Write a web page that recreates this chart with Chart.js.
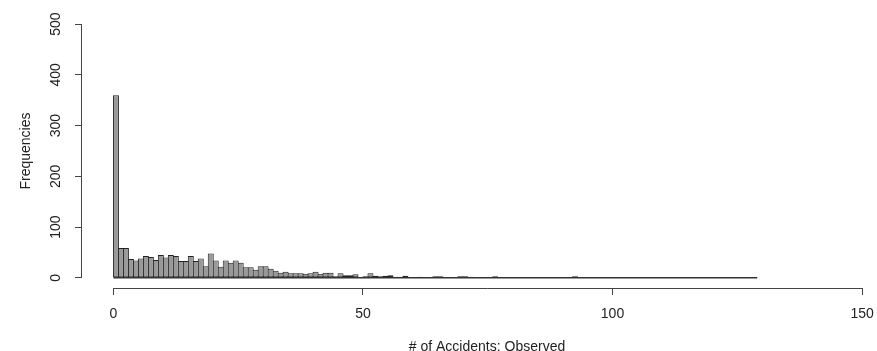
<!DOCTYPE html>
<html>
<head>
<meta charset="utf-8">
<script src="https://cdn.jsdelivr.net/npm/chart.js@4/dist/chart.umd.min.js"></script>
<style>
  html, body { margin: 0; padding: 0; background: #fff; overflow: hidden; }
  #wrap { position: relative; width: 900px; height: 351px; }
</style>
</head>
<body>
<div id="wrap"><canvas id="histChart"></canvas></div>
<script>
// histogram bins: [firstBreak + k*binWidth, firstBreak + (k+1)*binWidth)
const firstBreak = 0;
const binWidth = 1;
const counts = [
  360, 59, 59, 37, 34, 38, 43, 41, 35, 45,
  40, 45, 43, 33, 33, 43, 33, 38, 23, 48,
  34, 22, 34, 30, 34, 30, 21, 21, 16, 23,
  23, 18, 14, 10, 12, 9, 9, 9, 8, 9,
  12, 8, 10, 10, 3, 9, 5, 5, 7, 1,
  3, 9, 4, 3, 4, 5, 2, 2, 4, 1,
  1, 2, 1, 1, 3, 3, 1, 1, 1, 3,
  3, 2, 1, 1, 1, 1, 3, 1, 1, 1,
  0, 0, 0, 0, 0, 0, 0, 0, 0, 0,
  0, 0, 3, 0, 0, 1, 0, 0, 0, 0,
  0, 0, 0, 0, 0, 1, 0, 0, 0, 1,
  0, 0, 0, 0, 0, 0, 0, 0, 0, 0,
  0, 1, 1, 0, 0, 0, 0, 0, 1
];
const xTicks = [0, 50, 100, 150];
const yTicks = [0, 100, 200, 300, 400, 500];
const xTitle = "# of Accidents: Observed";
const yTitle = "Frequencies";

const bars = counts.map((c, k) => ({ x: firstBreak + (k + 0.5) * binWidth, y: c }));
const lastBreak = firstBreak + counts.length * binWidth;

const font = { family: "'Liberation Sans', Arial, sans-serif", size: 14, lineHeight: 1 };
const textColor = "#222";
const axisColor = "#444";

// R style axis lines: only from first to last tick
const axisLines = {
  id: "axisLines",
  afterDraw(chart) {
    const { ctx, chartArea, scales: { x, y } } = chart;
    ctx.save();
    ctx.strokeStyle = axisColor;
    ctx.lineWidth = 1;
    ctx.beginPath();
    const by = Math.round(chartArea.bottom) + 0.5;
    ctx.moveTo(x.getPixelForValue(xTicks[0]), by);
    ctx.lineTo(x.getPixelForValue(xTicks[xTicks.length - 1]), by);
    const lx = Math.round(chartArea.left) - 0.5;
    ctx.moveTo(lx, y.getPixelForValue(yTicks[0]));
    ctx.lineTo(lx, y.getPixelForValue(yTicks[yTicks.length - 1]));
    ctx.stroke();
    ctx.restore();
  }
};

new Chart(document.getElementById("histChart"), {
  type: "bar",
  data: {
    datasets: [
      {
        type: "line",
        data: [{ x: firstBreak, y: 0 }, { x: lastBreak, y: 0 }],
        borderColor: "#333",
        borderWidth: 1.5,
        pointRadius: 0,
        order: 0
      },
      {
        data: bars,
        backgroundColor: "#999999",
        borderColor: "#222",
        borderWidth: 1,
        borderSkipped: false,
        barPercentage: 1.2,
        categoryPercentage: 1,
        order: 1
      }
    ]
  },
  options: {
    responsive: true,
    maintainAspectRatio: false,
    animation: false,
    layout: { padding: { top: 14, right: 8, left: 0, bottom: 0 } },
    plugins: { legend: { display: false }, tooltip: { enabled: false } },
    scales: {
      x: {
        type: "linear",
        min: -6.3,
        max: 156,
        offset: false,
        afterBuildTicks: s => { s.ticks = xTicks.map(v => ({ value: v })); },
        afterFit: s => { s.height = 63; },
        ticks: { color: textColor, font, padding: 12, autoSkip: false, maxRotation: 0 },
        grid: { offset: false, drawOnChartArea: false, drawTicks: true, tickLength: 7, color: axisColor },
        border: { display: false },
        title: { display: true, text: xTitle, color: textColor, font, padding: { top: 0, bottom: -3 } }
      },
      y: {
        min: -20,
        max: 520,
        afterBuildTicks: s => { s.ticks = yTicks.map(v => ({ value: v })); },
        afterFit: s => { s.width = 82; },
        ticks: { color: textColor, font, padding: 7, autoSkip: false, minRotation: 90, maxRotation: 90, crossAlign: "center" },
        grid: { offset: false, drawOnChartArea: false, drawTicks: true, tickLength: 7, color: axisColor },
        border: { display: false },
        title: { display: true, text: yTitle, color: textColor, font, padding: { top: 19, bottom: 0 } }
      }
    }
  },
  plugins: [axisLines]
});
</script>
</body>
</html>
